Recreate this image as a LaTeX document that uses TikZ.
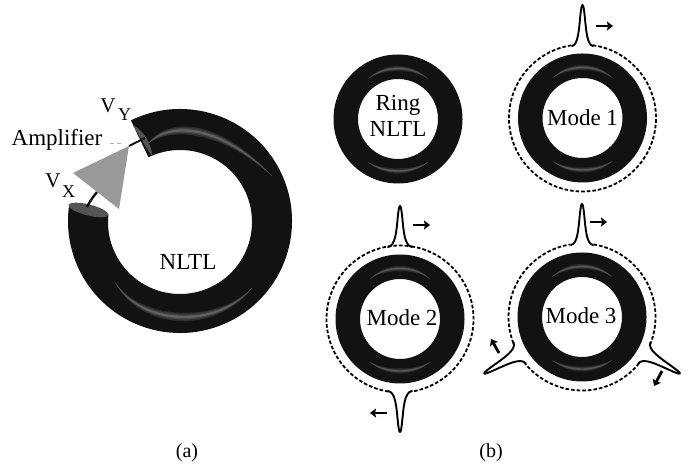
\documentclass[tikz,border=0pt]{standalone}
\usepackage{fontspec}
\setmainfont{Liberation Serif}
\usetikzlibrary{arrows.meta,calc}
\definecolor{ringblack}{gray}{0.07}
\definecolor{capgray}{gray}{0.33}
\definecolor{ampgray}{gray}{0.6}
\tikzset{
  x=1pt,y=1pt,
  lab/.style={inner sep=0pt,font=\fontsize{23}{25}\selectfont,align=center},
  vlab/.style={inner sep=0pt,font=\fontsize{21}{23}\selectfont},
  sublab/.style={inner sep=0pt,font=\fontsize{18}{20}\selectfont},
  caplab/.style={inner sep=0pt,font=\fontsize{20}{22}\selectfont},
  ringbody/.style={fill=ringblack,draw=none},
  dashcircle/.style={line width=1.8pt,dash pattern=on 3.6pt off 2pt},
  pulse/.style={line width=1.9pt,line cap=round,line join=round},
  motion/.style={line width=2.8pt,-{Stealth[length=6pt,width=9pt,inset=1pt]}},
  wire/.style={line width=2.4pt,ringblack}
}
% tapered glint: start, control, control, end, half thickness, shade
\newcommand{\lensfill}[6]{%
  \fill[black!#6!white] (#1) .. controls ($(#2)+(0,#5)$) and ($(#3)+(0,#5)$) .. (#4)
    .. controls ($(#3)-(0,#5)$) and ($(#2)-(0,#5)$) .. (#1) -- cycle;}
\newcommand{\glintb}[4]{%
  \lensfill{#1}{#2}{#3}{#4}{5.5}{82}%
  \lensfill{#1}{#2}{#3}{#4}{3.4}{74}%
  \lensfill{#1}{#2}{#3}{#4}{1.6}{62}}
\newcommand{\glints}[4]{%
  \lensfill{#1}{#2}{#3}{#4}{3.4}{85}%
  \lensfill{#1}{#2}{#3}{#4}{2}{76}%
  \lensfill{#1}{#2}{#3}{#4}{0.9}{66}}
\newcommand{\solidring}[1]{%
  \fill[ringbody,even odd rule] (#1) circle[radius=64.5] (#1) circle[radius=40];
  \glints{$(#1)+(-30,40)$}{$(#1)+(-14,54)$}{$(#1)+(14,54)$}{$(#1)+(30,40)$}
  \glints{$(#1)+(-30,-43)$}{$(#1)+(-14,-55)$}{$(#1)+(14,-55)$}{$(#1)+(30,-43)$}}
\newcommand{\dasharc}[3]{%
  \draw[dashcircle] ($(#1)+(#2:73.5)$) arc[start angle=#2,end angle=#3,radius=73.5];}
\newcommand{\spike}[3]{%
  \begin{scope}[shift={(#1)},rotate=#2-90]
    \draw[pulse] (-#3,72) .. controls (-4.5,73) and (-3.6,88) .. (-2.3,101)
      .. controls (-1.5,109) and (-0.9,113) .. (0,113)
      .. controls (0.9,113) and (1.5,109) .. (2.3,101)
      .. controls (3.6,88) and (4.5,73) .. (#3,72);
  \end{scope}}
\begin{document}
\begin{tikzpicture}
\useasboundingbox (0,0) rectangle (692,470);
\fill[white] (0,0) rectangle (692,470);

% ---------- (a) open ring
\coordinate (bigc) at (180,249);
\coordinate (bigi) at (180,248);
\fill[ringbody] (bigc) ++(116:112) arc[start angle=116,end angle=-188,radius=112]
  -- ($(bigi)+(174:72)$) arc[start angle=-186,end angle=116,radius=72] -- cycle;
\glintb{148,326}{165,346}{215,350}{272,294}
\glintb{115,188}{140,145}{215,140}{252,182}
% end faces
\fill[capgray] (133,345) .. controls (143,340) and (152,326) .. (152,314)
  .. controls (146,322) and (139,334) .. (133,345) -- cycle;
\fill[capgray,rotate around={-14:(88.5,260)}] (88.5,260) ellipse[x radius=20.5,y radius=5.5];
% amplifier
\coordinate (ampin) at (97,278);
\coordinate (xface) at (87,263);
\coordinate (ampout) at (129,324);
\coordinate (yface) at (145,332);
\draw[wire] (xface) .. controls (90,269) and (93,273) .. (ampin);
\draw[wire,line width=1.8pt] (ampout) -- (yface);
\fill[ampgray] (73,297) -- (129,324) -- (119,261) -- cycle;
\draw[gray!60,line width=0.7pt,dash pattern=on 4pt off 3pt] (110,327) -- (124,327);

\node[lab] (amplabel) at (57,330) {Amplifier};
\node[vlab] (vy) at (108,364) {V};
\node[sublab] (vysub) at (124.5,355) {Y};
\node[vlab] (vx) at (53,289.5) {V};
\node[sublab] (vxsub) at (68.5,278) {X};
\node[lab] (nltl) at (188,208) {NLTL};

% ---------- Ring NLTL
\coordinate (r0) at (398,351);
\solidring{r0}
\node[lab] (t0) at (398,354) {Ring\\[1pt]NLTL};

% ---------- Mode 1
\coordinate (r1) at (582.5,352);
\solidring{r1}
\dasharc{r1}{82}{-262}
\spike{r1}{90}{10.5}
\node[lab] (t1) at (582.5,352) {Mode 1};
\coordinate (a1s) at (596,444); \coordinate (a1e) at (613,444);
\draw[motion] (a1s) -- (a1e);

% ---------- Mode 2
\coordinate (r2) at (400,151);
\solidring{r2}
\dasharc{r2}{81}{-81}
\dasharc{r2}{-99}{-279}
\spike{r2}{90}{12}
\spike{r2}{270}{12}
\node[lab] (t2) at (402,152) {Mode 2};
\coordinate (a2s) at (413,245); \coordinate (a2e) at (430,245);
\draw[motion] (a2s) -- (a2e);
\coordinate (a3s) at (387,57); \coordinate (a3e) at (370,57);
\draw[motion] (a3s) -- (a3e);

% ---------- Mode 3
\coordinate (r3) at (582,153);
\solidring{r3}
\dasharc{r3}{81}{-21}
\dasharc{r3}{-39}{-141}
\dasharc{r3}{-159}{-261}
\spike{r3}{90}{11}
\spike{r3}{210}{12}
\spike{r3}{330}{12}
\node[lab] (t3) at (581,154) {Mode 3};
\coordinate (a4s) at (590,248); \coordinate (a4e) at (607,248);
\draw[motion] (a4s) -- (a4e);
\coordinate (a5s) at (499,117); \coordinate (a5e) at (491,131);
\draw[motion] (a5s) -- (a5e);
\coordinate (a6s) at (662,99); \coordinate (a6e) at (654,84);
\draw[motion] (a6s) -- (a6e);

% ---------- captions
\node[caplab] (capa) at (187,17) {(a)};
\node[caplab] (capb) at (491,17) {(b)};
\end{tikzpicture}
\end{document}
